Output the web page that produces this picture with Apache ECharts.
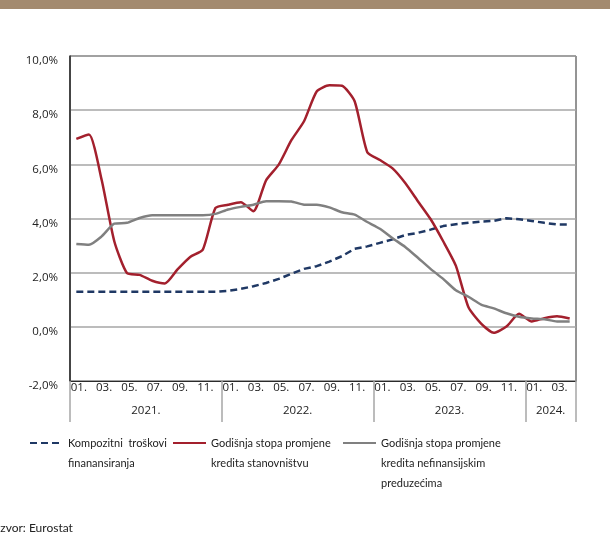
<!DOCTYPE html>
<html>
<head>
<meta charset="utf-8">
<script src="https://cdn.jsdelivr.net/npm/echarts@6/dist/echarts.min.js"></script>
<style>
  html, body { margin: 0; padding: 0; background: #fff; }
  #chart { width: 610px; height: 535px; }
</style>
</head>
<body>
<div id="chart"></div>
<script>
// oznake na x osi
const yearLabels = ["2021.", "2022.", "2023.", "2024."];
const monthsInYear = [12, 12, 12, 4];
const monthLabels = ["01.", "02.", "03.", "04.", "05.", "06.", "07.", "08.", "09.", "10.", "11.", "12."];

// serije (u %), mjesečno od 01.2021. do 04.2024.
const kompozitni = [
  1.3, 1.3, 1.3, 1.3, 1.3, 1.3, 1.3, 1.3, 1.3, 1.3, 1.3, 1.3,
  1.33, 1.4, 1.5, 1.62, 1.77, 1.96, 2.14, 2.24, 2.41, 2.61, 2.88, 2.97,
  3.1, 3.23, 3.39, 3.47, 3.59, 3.72, 3.79, 3.84, 3.89, 3.91, 4.01, 3.97,
  3.91, 3.84, 3.78, 3.78
];
const stanovnistvo = [
  6.94, 7.1, 5.43, 3.16, 1.99, 1.92, 1.7, 1.6, 2.12, 2.58, 2.85, 4.39,
  4.51, 4.6, 4.27, 5.41, 5.99, 6.89, 7.59, 8.69, 8.92, 8.9, 8.33, 6.45,
  6.16, 5.85, 5.31, 4.64, 3.98, 3.16, 2.26, 0.72, 0.12, -0.22, 0.01, 0.48,
  0.2, 0.32, 0.39, 0.31
];
const preduzeca = [
  3.06, 3.03, 3.34, 3.81, 3.84, 4.02, 4.12, 4.12, 4.12, 4.12, 4.12, 4.17,
  4.33, 4.43, 4.51, 4.64, 4.64, 4.63, 4.51, 4.51, 4.41, 4.23, 4.14, 3.87,
  3.62, 3.27, 2.95, 2.55, 2.14, 1.77, 1.35, 1.11, 0.82, 0.68, 0.5, 0.37,
  0.31, 0.28, 0.2, 0.2
];
const yTicks = { min: -2, max: 10, interval: 2 };

const seriesNames = [
  "Kompozitni troškovi finanansiranja",
  "Godišnja stopa promjene kredita stanovništvu",
  "Godišnja stopa promjene kredita nefinansijskim preduzećima"
];
const legendLabels = [
  ["Kompozitni  troškovi", "finanansiranja"],
  ["Godišnja stopa promjene", "kredita stanovništvu"],
  ["Godišnja stopa promjene", "kredita nefinansijskim", "preduzećima"]
];

// kategorije po mjesecima
const categories = [];
yearLabels.forEach((y, yi) => {
  for (let m = 0; m < monthsInYear[yi]; m++) categories.push(monthLabels[m] + y);
});

// druga osa: granice mjeseci (n+1 tačaka), godina u sredini
const bounds = new Array(categories.length + 1).fill("");
const yearEdges = [0];
let acc = 0;
monthsInYear.forEach((n, yi) => {
  bounds[acc + n / 2] = yearLabels[yi];
  acc += n;
  yearEdges.push(acc);
});

const FONT = "Open Sans";
const LEG_FONT = "Lato";
const LH = 20;

const myChart = echarts.init(document.getElementById("chart"), null, { renderer: "canvas" });

// tekst legende: prazni redovi ispred da prvi red stoji uz ikonu
const makeLegend = (i, left) => {
  const lines = legendLabels[i];
  const pad = new Array(lines.length - 1).fill(" ");
  return {
    data: [seriesNames[i]],
    left: left,
    top: 443 - (lines.length - 1) * LH - LH / 2,
    padding: 0,
    itemWidth: 33,
    itemHeight: 10,
    itemGap: 0,
    itemStyle: { opacity: 0 },
    formatter: () => pad.concat(lines).join("\n"),
    textStyle: {
      fontFamily: LEG_FONT,
      fontSize: 11,
      color: "#222",
      lineHeight: LH,
    },
  };
};

const options = {
  animation: false,
  textStyle: { fontFamily: FONT },
  grid: {
    left: 70,
    right: 34,
    top: 56,
    bottom: 154,
    show: true,
    borderColor: "#2b2b2b",
    borderWidth: 1,
    containLabel: false,
  },
  xAxis: [
    {
      type: "category",
      data: categories,
      boundaryGap: true,
      axisLine: { show: true, onZero: false, lineStyle: { color: "#2b2b2b", width: 1 } },
      axisTick: { show: false },
      axisLabel: {
        interval: 1,
        margin: 1,
        padding: [0, 0, 0, 5],
        fontSize: 11.5,
        color: "#222",
        formatter: (v) => v.slice(0, 3),
      },
    },
    {
      type: "category",
      data: bounds,
      boundaryGap: false,
      position: "bottom",
      axisLine: { show: false, onZero: false },
      axisTick: {
        show: true,
        length: 41,
        interval: (i) => yearEdges.indexOf(i) >= 0,
        lineStyle: { color: "#a6a6a6", width: 1.5 },
      },
      axisLabel: {
        interval: (i, v) => v !== "",
        margin: 24,
        fontSize: 11.5,
        color: "#222",
      },
    },
  ],
  yAxis: {
    type: "value",
    min: yTicks.min,
    max: yTicks.max,
    interval: yTicks.interval,
    axisLine: { show: true, lineStyle: { color: "#2b2b2b", width: 1.5 } },
    axisTick: { show: false },
    splitLine: { lineStyle: { color: "#a6a6a6", width: 1.5 } },
    axisLabel: {
      margin: 12,
      verticalAlign: "top",
      lineHeight: 10,
      fontSize: 11.5,
      color: "#222",
      formatter: (v) => v.toFixed(1).replace(".", ",") + "%",
    },
  },
  legend: [makeLegend(0, 29), makeLegend(1, 172), makeLegend(2, 342)],
  graphic: [
    {
      type: "rect",
      shape: { x: 0, y: 0, width: 610, height: 9 },
      style: { fill: "#a38a6f" },
    },
    {
      type: "text",
      left: -3,
      top: 522,
      style: { text: "Izvor: Eurostat", font: "12px Lato", fill: "#222" },
    },
  ],
  series: [
    {
      name: seriesNames[0],
      type: "line",
      data: kompozitni,
      showSymbol: false,
      symbol: "none",
      lineStyle: { color: "#1f3864", width: 2.5, type: [7, 4] },
      itemStyle: { color: "#1f3864" },
    },
    {
      name: seriesNames[1],
      type: "line",
      data: stanovnistvo,
      showSymbol: false,
      symbol: "none",
      smooth: 0.2,
      lineStyle: { color: "#a3202d", width: 2.5 },
      itemStyle: { color: "#a3202d" },
    },
    {
      name: seriesNames[2],
      type: "line",
      data: preduzeca,
      showSymbol: false,
      symbol: "none",
      smooth: 0.2,
      lineStyle: { color: "#808080", width: 2.5 },
      itemStyle: { color: "#808080" },
    },
  ],
};

myChart.setOption(options);
</script>
</body>
</html>
